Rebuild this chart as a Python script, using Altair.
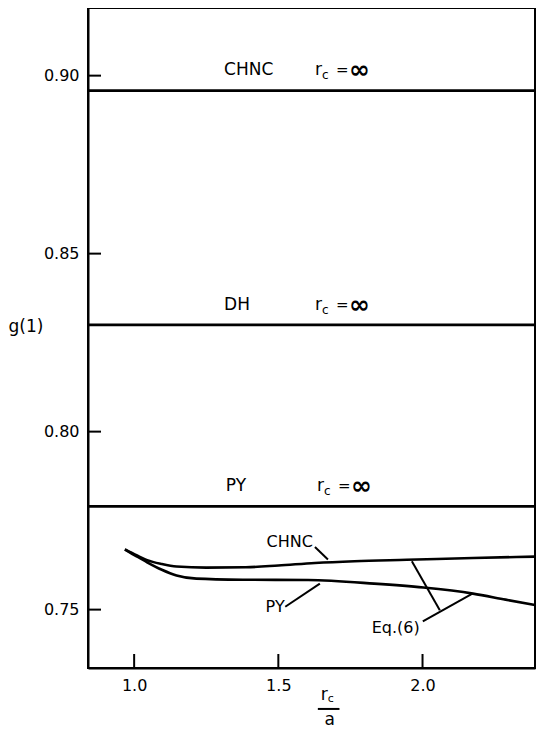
import altair as alt
import pandas as pd

# ---- data ----
chnc_x = [0.968, 1.010, 1.045, 1.096, 1.147, 1.25, 1.387, 1.50, 1.627, 1.764, 1.945, 2.175, 2.39]
chnc_y = [0.7669, 0.7652, 0.7639, 0.7628, 0.7621, 0.7618, 0.7619, 0.7624, 0.7631, 0.7636, 0.7640, 0.7645, 0.7649]
py_x = [0.968, 1.010, 1.045, 1.096, 1.147, 1.216, 1.377, 1.603, 1.832, 2.003, 2.175, 2.288, 2.39]
py_y = [0.7669, 0.7649, 0.7633, 0.7612, 0.7596, 0.7587, 0.7584, 0.7583, 0.7573, 0.7562, 0.7545, 0.7528, 0.7513]

inf_names = ["CHNC", "DH", "PY"]
inf_values = [0.8958, 0.830, 0.779]
inf_label_y = [0.9017, 0.8357, 0.7848]
inf_name_x = [1.312, 1.312, 1.318]
inf_r_x = [1.627, 1.627, 1.634]

x_ticks = [1.0, 1.5, 2.0]
y_ticks = [0.75, 0.80, 0.85, 0.90]

curve_labels = ["CHNC", "PY", "Eq.(6)"]
curve_label_x = [1.620, 1.522, 1.99]
curve_label_y = [0.7690, 0.7508, 0.7449]

leader_x1 = [1.627, 1.524, 1.963, 2.001]
leader_y1 = [0.7676, 0.7508, 0.7636, 0.7467]
leader_x2 = [1.672, 1.644, 2.060, 2.173]
leader_y2 = [0.7641, 0.7573, 0.7498, 0.7545]

# x-axis fraction title anchors (data units, below the axis)
frac_r = (1.647, 0.7260)
frac_bar = (1.637, 1.712, 0.7221)
frac_a = (1.678, 0.7190)

X_DOMAIN = [0.84, 2.39]
Y_DOMAIN = [0.7336, 0.919]
W, H = 447, 660
FONT = "DejaVu Sans"

curves = pd.concat([
    pd.DataFrame({"x": chnc_x, "y": chnc_y, "s": "CHNC"}),
    pd.DataFrame({"x": py_x, "y": py_y, "s": "PY"}),
])
inf_df = pd.DataFrame({"name": inf_names, "v": inf_values, "ly": inf_label_y,
                       "nx": inf_name_x, "rx": inf_r_x})
lab_df = pd.DataFrame({"t": curve_labels, "x": curve_label_x, "y": curve_label_y})
lead_df = pd.DataFrame({"x": leader_x1, "y": leader_y1, "x2": leader_x2, "y2": leader_y2})
xt_df = pd.DataFrame({"v": x_ticks})
yt_df = pd.DataFrame({"v": y_ticks})

xs = alt.Scale(domain=X_DOMAIN, nice=False, zero=False)
ys = alt.Scale(domain=Y_DOMAIN, nice=False, zero=False)

X = lambda f: alt.X(f, type="quantitative", scale=xs,
                    axis=alt.Axis(values=x_ticks, format=".1f", title=None,
                                  labelFont=FONT, labelFontSize=16, labelColor="black",
                                  domainColor="black", domainWidth=2,
                                  labelPadding=9, ticks=False, grid=False))
Y = lambda f: alt.Y(f, type="quantitative", scale=ys,
                    axis=alt.Axis(values=y_ticks, format=".2f", title="g(1)",
                                  titleAngle=0, titleX=-80, titleY=318,
                                  titleAlign="left", titleBaseline="middle",
                                  titleFont=FONT, titleFontSize=17, titleFontWeight="normal",
                                  titleColor="black",
                                  labelFont=FONT, labelFontSize=16, labelColor="black",
                                  domainColor="black", domainWidth=2,
                                  labelPadding=9, ticks=False, grid=False))

lines = alt.Chart(curves).mark_line(color="black", strokeWidth=2.6, interpolate="monotone").encode(
    x=X("x"), y=Y("y"), detail="s:N")

hrules = alt.Chart(inf_df).mark_rule(color="black", strokeWidth=2.6).encode(y=Y("v"))

name_txt = alt.Chart(inf_df).mark_text(align="left", baseline="middle", font=FONT, fontSize=17).encode(
    x=X("nx"), y=Y("ly"), text="name:N")
r_txt = alt.Chart(inf_df).mark_text(text="r", align="left", baseline="middle", font=FONT, fontSize=17).encode(
    x=X("rx"), y=Y("ly"))
c_txt = alt.Chart(inf_df).mark_text(text="c", align="left", baseline="middle", font=FONT, fontSize=12, dx=7, dy=5).encode(
    x=X("rx"), y=Y("ly"))
eq_txt = alt.Chart(inf_df).mark_text(text="=", align="left", baseline="middle", font=FONT, fontSize=15, dx=21).encode(
    x=X("rx"), y=Y("ly"))
inf_txt = alt.Chart(inf_df).mark_text(text="∞", align="left", baseline="middle", font=FONT, fontSize=25, fontWeight="bold", dx=34).encode(
    x=X("rx"), y=Y("ly"))

curve_txt = alt.Chart(lab_df).mark_text(align="right", baseline="middle", font=FONT, fontSize=16).encode(
    x=X("x"), y=Y("y"), text="t:N")
leaders = alt.Chart(lead_df).mark_rule(color="black", strokeWidth=2).encode(
    x=X("x"), y=Y("y"), x2="x2", y2="y2")

ytick = alt.Chart(yt_df).mark_rule(color="black", strokeWidth=2).encode(
    y=Y("v"), x=alt.value(0), x2=alt.value(13))
xtick = alt.Chart(xt_df).mark_rule(color="black", strokeWidth=2).encode(
    x=X("v"), y=alt.value(H), y2=alt.value(H - 14))

frac_df = pd.DataFrame({"rx": [frac_r[0]], "ry": [frac_r[1]],
                        "bx": [frac_bar[0]], "bx2": [frac_bar[1]], "by": [frac_bar[2]],
                        "ax": [frac_a[0]], "ay": [frac_a[1]]})
fr_r = alt.Chart(frac_df).mark_text(text="r", align="left", baseline="middle", font=FONT, fontSize=17).encode(
    x=X("rx"), y=Y("ry"))
fr_c = alt.Chart(frac_df).mark_text(text="c", align="left", baseline="middle", font=FONT, fontSize=11, dx=7, dy=4).encode(
    x=X("rx"), y=Y("ry"))
fr_bar = alt.Chart(frac_df).mark_rule(color="black", strokeWidth=2).encode(
    x=X("bx"), x2="bx2", y=Y("by"))
fr_a = alt.Chart(frac_df).mark_text(text="a", align="center", baseline="middle", font=FONT, fontSize=17).encode(
    x=X("ax"), y=Y("ay"))

chart = alt.layer(
    hrules, lines, leaders, ytick, xtick,
    name_txt, r_txt, c_txt, eq_txt, inf_txt, curve_txt,
    fr_r, fr_c, fr_bar, fr_a,
).properties(
    width=W, height=H,
    padding={"left": 0, "top": 0, "right": 0, "bottom": 0},
    background="white",
).configure_view(
    stroke="black", strokeWidth=2,
)

chart.save("out.html", embed_options={"renderer": "svg", "actions": False})
